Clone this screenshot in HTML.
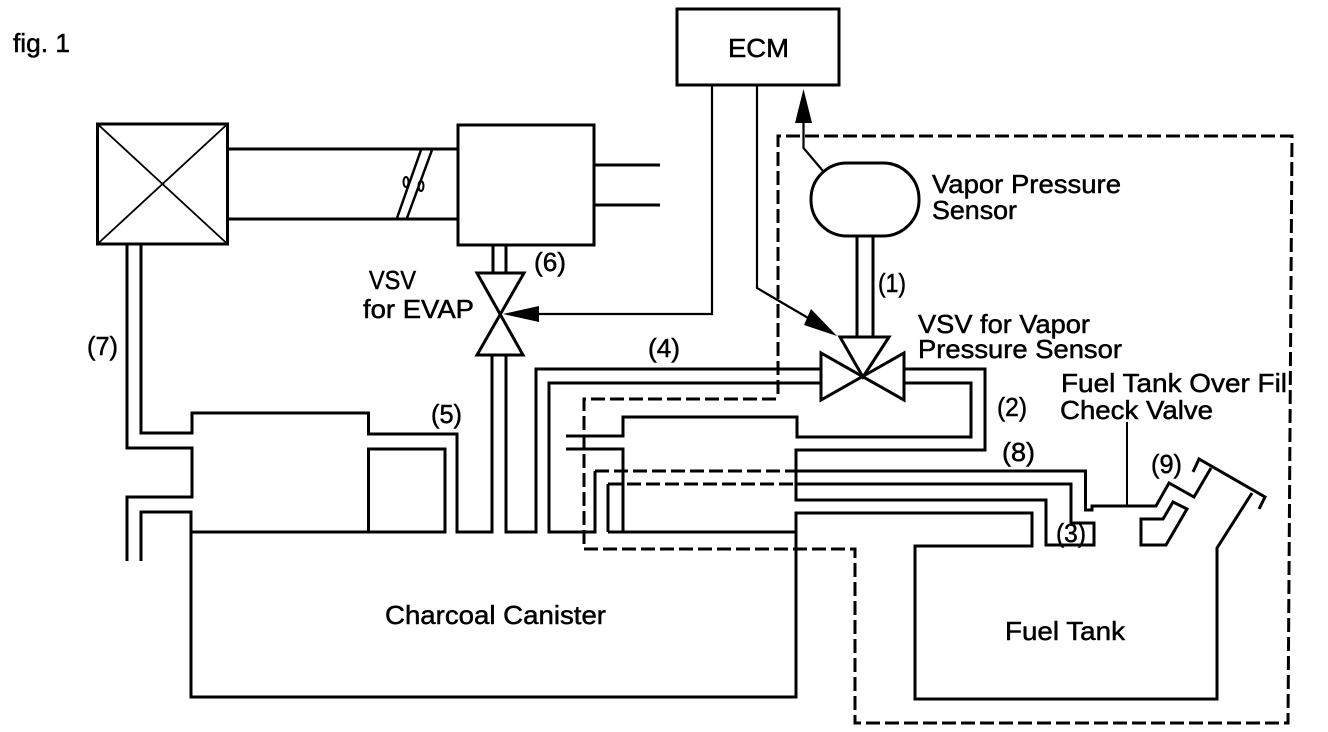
<!DOCTYPE html>
<html>
<head>
<meta charset="utf-8">
<style>
html,body{margin:0;padding:0;background:#fff}
svg{display:block}
text{font-family:"Liberation Sans",sans-serif;font-size:26px;fill:#000;stroke:#000;stroke-width:.5px}
</style>
</head>
<body>
<svg width="1328" height="732" viewBox="0 0 1328 732" xmlns="http://www.w3.org/2000/svg">
<rect width="1328" height="732" fill="#fff"/>
<g fill="none" stroke="#000" stroke-width="3" stroke-linejoin="miter">
<!-- filter box -->
<rect x="97.5" y="124" width="130" height="120"/>
<path stroke-width="1.8" d="M97.5 124L227.5 244M227.5 124L97.5 244"/>
<!-- intake duct -->
<path d="M228 149H458M228 219H458"/>
<rect x="458" y="125" width="136" height="120"/>
<path d="M594 165H660M594 205H660"/>
<!-- throttle -->
<path stroke-width="2.5" d="M421 150L397 218M432 150L407 218"/>
<ellipse cx="406" cy="182" rx="2.500" ry="5" stroke-width="2"/>
<ellipse cx="421" cy="186" rx="2.500" ry="5" stroke-width="2"/>
<!-- pipe 6 -->
<path d="M493 245V273M506 245V273"/>
<!-- VSV EVAP -->
<path d="M477 273H524L477 355H523Z"/>
<!-- pipe below VSV EVAP -->
<path d="M492 355V532H457V434H368.500V413H192V433H141V245"/>
<path d="M127 245V448H192V497H127V561"/>
<path d="M141 561V512H191V697H796V513H1032V546H915V699H1217V548L1252 493"/>
<!-- canister top -->
<path d="M191 532H445V449H368.500V532"/>
<path d="M506 355V532H536V369H821"/>
<path d="M821 383H549V532H595V471"/>
<path d="M608 532V484M608 532H796"/>
<path d="M566 436H623V417H797V437H971V383H904"/>
<path d="M566 449H623V532"/>
<path d="M904 369H985V450H796V500H1046V545H1094V523H1071V484H796"/>
<path d="M796 471H1085.500V510H1092V506H1156L1169 483L1194 497L1211 468"/>
<!-- filler -->
<path d="M1193 472L1199 459L1265 497L1259 509"/>
<path d="M1141 519H1163L1173 502L1187 509L1166 545H1141Z"/>
<!-- dashed pipes -->
<g stroke-dasharray="14 5" stroke-width="3">
<path d="M595 471H796"/>
<path d="M608 484H796"/>
<path d="M776 399H584V549H855V723H1288L1292 136H778V399"/>
</g>
<!-- ECM -->
<rect x="677" y="9" width="162" height="76"/>
<path stroke-width="2.200" d="M712 85V314H535"/>
<path stroke-width="2.200" d="M757 85V288L815 322"/>
<path stroke-width="2.200" d="M803.500 120V148L823 171"/>
<!-- sensor -->
<rect x="811" y="163" width="108" height="73" rx="36" ry="36"/>
<path d="M857 236V337M873 236V337"/>
<!-- VSV vapor -->
<path d="M840 337H889L863 377Z"/>
<path d="M821 353V400L904 353V400Z"/>
<!-- leader -->
<path stroke-width="2" d="M1127 422V506"/>
</g>
<!-- arrowheads -->
<path d="M503 314L539 306V322Z"/>
<path d="M803.500 89L795 123H812Z"/>
<path d="M837 336L811 309L804 325Z"/>
<!-- labels -->
<text x="13" y="52" textLength="57" lengthAdjust="spacingAndGlyphs">fig. 1</text>
<text x="728" y="57" textLength="61" lengthAdjust="spacingAndGlyphs">ECM</text>
<text x="932" y="193" textLength="189" lengthAdjust="spacingAndGlyphs">Vapor Pressure</text>
<text x="932" y="219" textLength="85" lengthAdjust="spacingAndGlyphs">Sensor</text>
<text x="878" y="292" textLength="28" lengthAdjust="spacingAndGlyphs">(1)</text>
<text x="918" y="333" textLength="172" lengthAdjust="spacingAndGlyphs">VSV for Vapor</text>
<text x="918" y="358" textLength="204" lengthAdjust="spacingAndGlyphs">Pressure Sensor</text>
<text x="1061" y="392" textLength="226" lengthAdjust="spacingAndGlyphs">Fuel Tank Over Fil</text>
<text x="1060" y="419" textLength="153" lengthAdjust="spacingAndGlyphs">Check Valve</text>
<text x="997" y="416" textLength="30" lengthAdjust="spacingAndGlyphs">(2)</text>
<text x="1002" y="461" textLength="33" lengthAdjust="spacingAndGlyphs">(8)</text>
<text x="1151" y="473" textLength="31" lengthAdjust="spacingAndGlyphs">(9)</text>
<text x="1056" y="542" textLength="30" lengthAdjust="spacingAndGlyphs">(3)</text>
<text x="648" y="357" textLength="32" lengthAdjust="spacingAndGlyphs">(4)</text>
<text x="431" y="423" textLength="31" lengthAdjust="spacingAndGlyphs">(5)</text>
<text x="534" y="271" textLength="32" lengthAdjust="spacingAndGlyphs">(6)</text>
<text x="87" y="355" textLength="31" lengthAdjust="spacingAndGlyphs">(7)</text>
<text x="369" y="289" textLength="47" lengthAdjust="spacingAndGlyphs">VSV</text>
<text x="363" y="318" textLength="111" lengthAdjust="spacingAndGlyphs">for EVAP</text>
<text x="385" y="624" textLength="221" lengthAdjust="spacingAndGlyphs">Charcoal Canister</text>
<text x="1005" y="640" textLength="120" lengthAdjust="spacingAndGlyphs">Fuel Tank</text>
</svg>
</body>
</html>
